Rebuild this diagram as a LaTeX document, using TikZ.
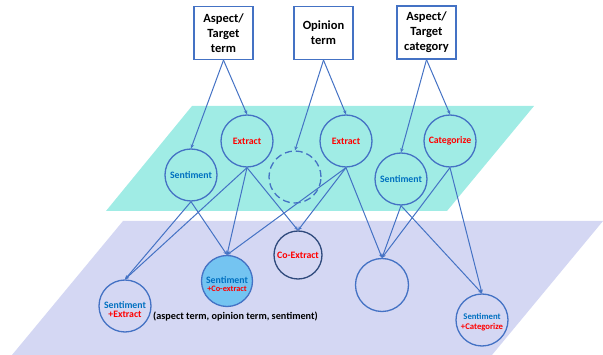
\documentclass[tikz,border=0pt]{standalone}
\usepackage{fontspec}
\setmainfont{Carlito}
\usetikzlibrary{arrows.meta}
\definecolor{lnblue}{HTML}{4472C4}
\definecolor{tealbg}{HTML}{A0ECE5}
\definecolor{lavbg}{HTML}{D4D7F3}
\definecolor{sentblue}{HTML}{0070C0}
\definecolor{exred}{HTML}{FF0000}
\definecolor{darkring}{HTML}{2F4A7C}
\definecolor{fillblue}{HTML}{74C4F1}
\tikzset{
  box/.style={draw=lnblue, line width=1.3pt, fill=white, minimum width=59pt, minimum height=53pt, inner sep=0pt, align=center, font=\bfseries\fontsize{12.5}{15}\selectfont},
  ring/.style={circle, draw=lnblue, line width=1.3pt, minimum size=52pt, inner sep=0pt, align=center, font=\bfseries\fontsize{9.8}{10}\selectfont},
  conn/.style={draw=lnblue, line width=1pt, -{Stealth[length=4pt,width=3.5pt]}},
  sent/.style={text=sentblue},
  ex/.style={text=exred}
}
\begin{document}
\begin{tikzpicture}[x=1pt,y=-1pt]
\useasboundingbox (0,0) rectangle (603,355);
% planes
\fill[tealbg] (192,106) -- (534,106) -- (447,211) -- (106,211) -- cycle;
\fill[lavbg] (123,221) -- (603,221) -- (492,355) -- (12,355) -- cycle;
% boxes
\node[box] (b1) at (223.5,33) {Aspect/\\Target\\term};
\node[box] (b2) at (323.5,33) {Opinion\\term};
\node[box] (b3) at (426.5,32.5) {Aspect/\\Target\\category};
% upper circles
\node[ring] (s1) at (191,175) {\textcolor{sentblue}{Sentiment}};
\node[ring] (e1) at (247,141) {\textcolor{exred}{Extract}};
\node[ring, dash pattern=on 7pt off 4pt] (d1) at (295,177) {};
\node[ring] (e2) at (346,141) {\textcolor{exred}{Extract}};
\node[ring] (s2) at (401,179) {\textcolor{sentblue}{Sentiment}};
\node[ring] (c1) at (450,141) {\textcolor{exred}{Categorize}};
% lower circles
\node[ring] (se) at (125,306) {};
\node[sent, font=\bfseries\fontsize{9.8}{9}\selectfont, align=center] (setx) at (125,310) {Sentiment\\\textcolor{exred}{+Extract}};
\node[ring, fill=fillblue, minimum size=51pt] (sc) at (227,281) {};
\node[font=\bfseries\fontsize{9.8}{9}\selectfont, align=center] (sctx) at (227,284) {\textcolor{sentblue}{Sentiment}\\[-0.5pt]\textcolor{exred}{\fontsize{8.3}{9}\selectfont +Co-extract}};
\node[ring, draw=darkring, minimum size=48pt] (ce) at (298,255) {\textcolor{exred}{Co-Extract}};
\node[ring, minimum size=53pt] (em) at (382,285) {};
\node[ring] (sg) at (482,320) {};
\node[font=\bfseries\fontsize{8.7}{10}\selectfont, align=center] (sgtx) at (482,322) {\textcolor{sentblue}{Sentiment}\\\textcolor{exred}{+Categorize}};
\node[font=\bfseries\fontsize{10.2}{11}\selectfont, anchor=west, inner sep=0pt] (trip) at (153,317) {(aspect term, opinion term, sentiment)};
% box connectors
\draw[conn] (b1.south) -- (s1.north);
\draw[conn] (b1.south) -- (e1.north);
\draw[conn] (b2.south) -- (d1.north);
\draw[conn] (b2.south) -- (e2.north);
\draw[conn] (b3.south) -- (s2.north);
\draw[conn] (b3.south) -- (c1.north);
% plane connectors
\draw[conn] (s1.south) -- (se.north);
\draw[conn] (s1.south) -- (sc.north);
\draw[conn] (e1.south) -- (se.north);
\draw[conn] (e1.south) -- (sc.north);
\draw[conn] (e1.south) -- (ce.north);
\draw[conn] (e2.south) -- (sc.north);
\draw[conn] (e2.south) -- (ce.north);
\draw[conn] (e2.south) -- (em.north);
\draw[conn] (s2.south) -- (em.north);
\draw[conn] (s2.south) -- (sg.north);
\draw[conn] (c1.south) -- (em.north);
\draw[conn] (c1.south) -- (sg.north);
\end{tikzpicture}
\end{document}
